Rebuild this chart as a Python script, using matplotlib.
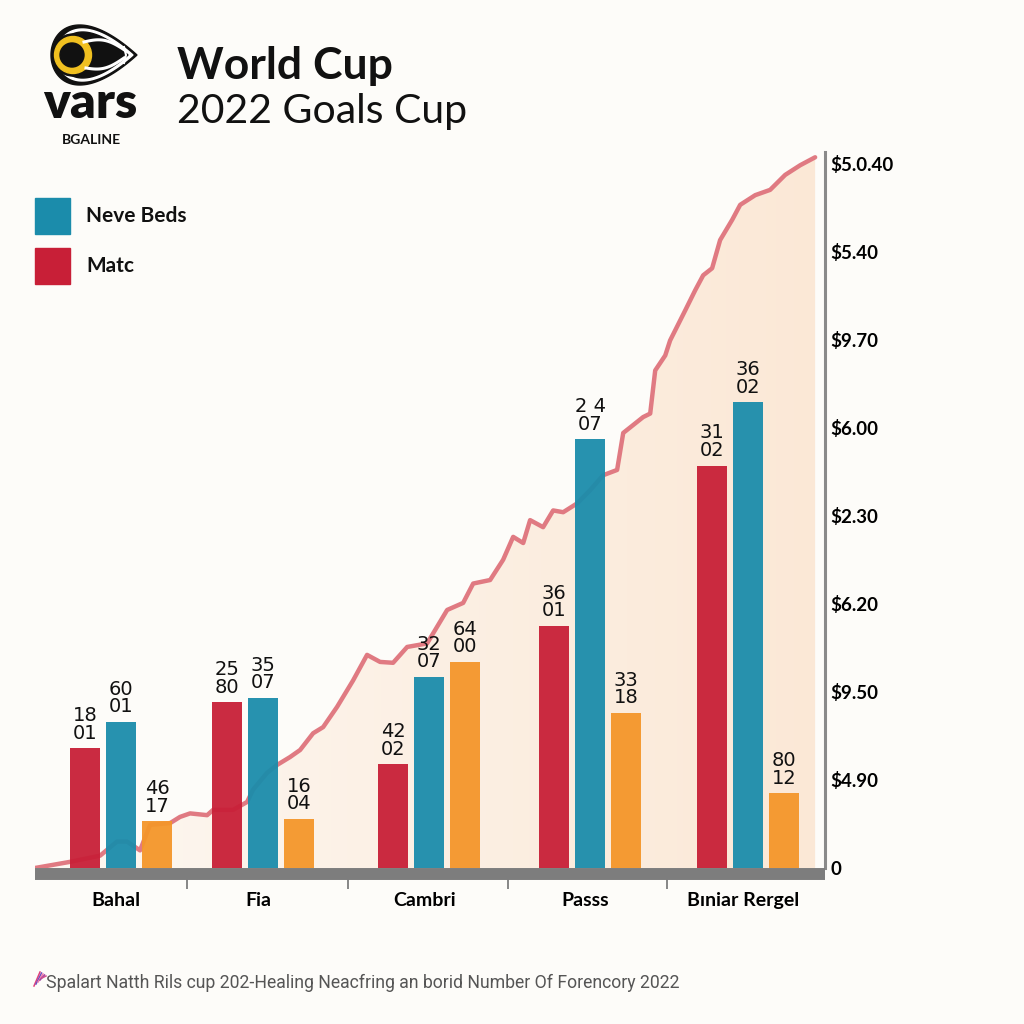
import matplotlib
matplotlib.use("Agg")
import matplotlib.pyplot as plt
from matplotlib.patches import Circle, Rectangle, Polygon
from matplotlib.colors import LinearSegmentedColormap
import numpy as np

# ---- data ----
categories = ["Bahal", "Fia", "Cambri", "Passs", "Bıniar Rergel"]
red_vals = [1.36, 1.88, 1.18, 2.75, 4.57]
blue_vals = [1.66, 1.93, 2.17, 4.87, 5.29]
orange_vals = [0.53, 0.56, 2.34, 1.76, 0.85]
red_labels = ["18\n01", "25\n80", "42\n02", "36\n01", "31\n02"]
blue_labels = ["60\n01", "35\n07", "32\n07", "2 4\n07", "36\n02"]
orange_labels = ["46\n17", "16\n04", "64\n00", "33\n18", "80\n12"]

line_x = [-0.549, -0.325, -0.134, -0.026, 0.038, 0.121, 0.185, 0.313, 0.376, 0.440,
          0.549, 0.587, 0.715, 0.804, 0.842, 0.931, 0.995, 1.078, 1.142, 1.225,
          1.289, 1.378, 1.480, 1.569, 1.652, 1.735, 1.825, 1.952, 2.080, 2.182,
          2.246, 2.354, 2.437, 2.501, 2.565, 2.609, 2.692, 2.756, 2.820, 2.909,
          2.992, 3.075, 3.164, 3.203, 3.330, 3.375, 3.407, 3.471, 3.502, 3.598,
          3.662, 3.713, 3.770, 3.821, 3.898, 3.949, 4.045, 4.140, 4.236, 4.332, 4.427]
line_y = [0.00, 0.07, 0.14, 0.30, 0.30, 0.20, 0.49, 0.51, 0.58, 0.62,
          0.60, 0.66, 0.66, 0.75, 0.89, 1.08, 1.17, 1.26, 1.34, 1.53,
          1.60, 1.83, 2.13, 2.42, 2.34, 2.33, 2.51, 2.55, 2.93, 3.01,
          3.23, 3.27, 3.50, 3.76, 3.69, 3.95, 3.87, 4.06, 4.04, 4.14,
          4.29, 4.46, 4.52, 4.94, 5.12, 5.16, 5.65, 5.82, 5.99, 6.33,
          6.56, 6.73, 6.81, 7.13, 7.36, 7.53, 7.64, 7.70, 7.87, 7.98, 8.07]

ytick_labels = ["0", "$4.90", "$9.50", "$6.20", "$2.30", "$6.00", "$9.70", "$5.40", "$5.0.40"]
legend_labels = ["Neve Beds", "Matc"]
title_1 = "World Cup"
title_2 = "2022 Goals Cup"
footer = "Spalart Natth Rils cup 202-Healing Neacfring an borid Number Of Forencory 2022"

# ---- layout ----
group_pos = np.array([0.0, 0.906, 1.965, 2.992, 4.0])
seps = [0.421, 1.448, 2.469, 3.483]
off = 0.23
bw = 0.19

RED = "#c81f37"
BLUE = "#1b8cab"
ORANGE = "#f4962a"
LINE = "#e07a82"
BG = "#fdfcf9"

plt.rcParams['text.parse_math'] = False
fig = plt.figure(figsize=(10.24, 10.24), dpi=100, facecolor=BG)

# overlay for title / logo / legend / footer (pixel coords)
deco = fig.add_axes([0, 0, 1, 1], zorder=0)
deco.set_xlim(0, 1024)
deco.set_ylim(1024, 0)
deco.axis("off")
deco.set_facecolor(BG)


def teardrop(cx, cy, hw, hh):
    t = np.linspace(0, 2 * np.pi, 200)
    xs = cx + hw * np.cos(t)
    ys = cy + hh * np.sin(t) * np.sin(t / 2) / 0.77
    return np.column_stack([xs, ys])


# logo: eye
deco.add_patch(Polygon(teardrop(94, 55, 43, 30), closed=True, color="#111111"))
deco.add_patch(Polygon(teardrop(95, 55, 38, 26), closed=True, color="white"))
deco.add_patch(Polygon(teardrop(94, 55, 34, 23), closed=True, color="#111111"))
tt = np.linspace(0, 1, 30)
deco.plot(84 + 42 * tt, 42 - 6 * np.sin(np.pi * tt) + 9 * tt, color="white", lw=2.2)
deco.plot(86 + 38 * tt, 68 + 5 * np.sin(np.pi * tt) - 10 * tt, color="white", lw=2.2)
deco.plot([124, 126, 124], [47, 55, 63], color="white", lw=1.5)
deco.add_patch(Circle((73, 55), 21, color="#111111"))
deco.add_patch(Circle((73, 55), 18.5, color="#f0c020"))
deco.add_patch(Circle((72, 55), 12, color="#111111"))
deco.text(90, 104, "vars", fontsize=36, fontweight="heavy", family="Lato",
          ha="center", va="center", color="#111111")
deco.text(91, 140, "BGALINE", fontsize=10, fontweight="bold", family="Lato",
          ha="center", va="center", color="#111111")

# title
deco.text(177, 66, title_1, fontsize=32, fontweight="bold", family="Lato",
          ha="left", va="center", color="#111111")
deco.text(177, 112, title_2, fontsize=29.5, family="Lato",
          ha="left", va="center", color="#111111")

# legend
for i, (lab, col) in enumerate(zip(legend_labels, [BLUE, RED])):
    yc = 216 + i * 50
    deco.add_patch(Rectangle((35, yc - 18), 35, 36, color=col))
    deco.text(86, yc, lab, fontsize=15, fontweight="bold", family="Lato",
              ha="left", va="center", color="#111111")

# footer
for k, c in enumerate(["#e0407a", "#7050c0", "#f07aa8", "#a040a0", "#d05090"]):
    deco.plot([34 + k * 2, 40 + k * 1.5], [986 - k * 2, 972 + k], color=c, lw=1.1)
deco.text(46, 983, footer, fontsize=12.7, family="Roboto",
          ha="left", va="center", color="#555555")

# main chart
ax = fig.add_axes([35 / 1024, 1 - 868 / 1024, 790 / 1024, 716 / 1024], zorder=1)
ax.set_facecolor("none")
ax.set_xlim(-0.549, 4.49)
ax.set_ylim(0, 8.13)

# gradient fill under the line
grad = np.linspace(0, 1, 256).reshape(1, -1)
cmap = LinearSegmentedColormap.from_list("peach", ["#fdf8f2", "#fbe8d6"])
im = ax.imshow(grad, extent=[-0.549, 4.49, 0, 8.13], aspect="auto", cmap=cmap, zorder=1)
poly = ax.fill_between(line_x, line_y, 0, color="none", lw=0)
im.set_clip_path(poly.get_paths()[0], transform=ax.transData)
ax.plot(line_x, line_y, color=LINE, lw=3.2, zorder=2, solid_capstyle="round")

for vals, labs, col, dx in [(red_vals, red_labels, RED, -off),
                            (blue_vals, blue_labels, BLUE, 0.0),
                            (orange_vals, orange_labels, ORANGE, off)]:
    bars = ax.bar(group_pos + dx, vals, width=bw, color=col, zorder=3, alpha=0.95)
    for b, t in zip(bars, labs):
        ax.annotate(t, (b.get_x() + b.get_width() / 2, b.get_height()),
                    xytext=(0, 4), textcoords="offset points", ha="center", va="bottom",
                    fontsize=14, linespacing=0.9, color="#111111", zorder=4)

# spines / ticks
ax.spines["left"].set_visible(False)
ax.spines["top"].set_visible(False)
ax.spines["right"].set_color("#8a8a8a")
ax.spines["right"].set_linewidth(2.2)
ax.spines["bottom"].set_color("#7d7d7d")
ax.spines["bottom"].set_linewidth(8.6)
ax.spines["bottom"].set_capstyle("butt")
ax.spines["bottom"].set_position(("outward", 4.3))

ax.yaxis.tick_right()
ax.set_yticks(range(9))
ax.set_yticklabels(ytick_labels, fontsize=13.5, fontweight="bold", family="Lato")
ax.tick_params(axis="y", length=0, pad=4)

ax.set_xticks(seps)
ax.set_xticklabels([])
ax.tick_params(axis="x", which="major", length=11, width=1.3, color="#7d7d7d")
ax.set_xticks(group_pos - 0.03, minor=True)
ax.set_xticklabels(categories, minor=True, fontsize=14, fontweight="bold", family="Lato")
ax.tick_params(axis="x", which="minor", length=0, pad=13)

fig.savefig("out.png", dpi=100, facecolor=BG)
